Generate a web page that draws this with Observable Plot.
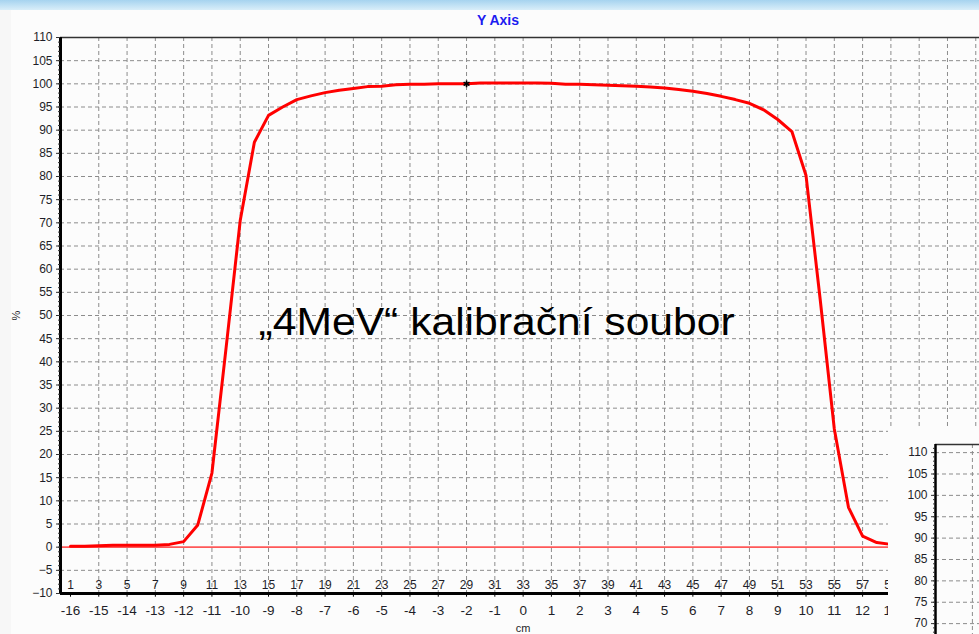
<!DOCTYPE html>
<html>
<head>
<meta charset="utf-8">
<script src="https://cdn.jsdelivr.net/npm/d3@7"></script>
<script src="https://cdn.jsdelivr.net/npm/@observablehq/plot@0.6"></script>
<style>
  html, body { margin: 0; padding: 0; overflow: hidden; }
  body { width: 979px; height: 634px; background: #f7f7f7; position: relative; font-family: "Liberation Sans", Arial, sans-serif; }
  #topbar { position: absolute; left: 0; top: 0; width: 979px; height: 10px; background: linear-gradient(#a6d3ef, #d9eef9); }
  #panel { position: absolute; left: 11px; top: 10px; width: 968px; height: 624px; background: #fcfcfc; }
  #main { position: absolute; left: 0; top: 0; }
  #inset { position: absolute; left: 888px; top: 428px; width: 91px; height: 206px; background: #fcfcfc; overflow: hidden; }
</style>
</head>
<body>
<div id="topbar"></div>
<div id="panel"></div>
<div id="main"></div>
<div id="inset"></div>
<script>
// ---- data ----
const positionsCm = [-16,-15.5,-15,-14.5,-14,-13.5,-13,-12.5,-12,-11.5,-11,-10.5,-10,-9.5,-9,-8.5,-8,-7.5,-7,-6.5,-6,-5.5,-5,-4.5,-4,-3.5,-3,-2.5,-2,-1.5,-1,-0.5,0,0.5,1,1.5,2,2.5,3,3.5,4,4.5,5,5.5,6,6.5,7,7.5,8,8.5,9,9.5,10,10.5,11,11.5,12,12.5,13];
const dosePercent = [0.2,0.2,0.3,0.4,0.4,0.4,0.4,0.6,1.2,4.8,16.0,43.0,70.5,87.4,93.2,95.0,96.6,97.4,98.1,98.6,99.0,99.4,99.5,99.8,99.9,99.9,100.0,100.0,100.0,100.2,100.2,100.2,100.2,100.2,100.1,99.9,99.9,99.8,99.7,99.6,99.5,99.3,99.1,98.8,98.4,97.9,97.3,96.6,95.8,94.4,92.3,89.7,80.2,53.5,25.5,8.6,2.4,1.0,0.6];
const cmTicks = [-16,-15,-14,-13,-12,-11,-10,-9,-8,-7,-6,-5,-4,-3,-2,-1,0,1,2,3,4,5,6,7,8,9,10,11,12,13];
const indexLabels = [1,3,5,7,9,11,13,15,17,19,21,23,25,27,29,31,33,35,37,39,41,43,45,47,49,51,53,55,57,59];
const yTicks = [-10,-5,0,5,10,15,20,25,30,35,40,45,50,55,60,65,70,75,80,85,90,95,100,105,110];
const gridY = [-5,5,10,15,20,25,30,35,40,45,50,55,60,65,70,75,80,85,90,95,100,105];
const gridX = [-15,-14,-13,-12,-11,-10,-9,-8,-7,-6,-5,-4,-3,-2,-1,0,1,2,3,4,5,6,7,8,9,10,11,12,13,14,15,16];
const markerPoint = [{x: -2, y: 100}];
const titleText = "Y Axis";
const annotation = [{x: -9.35, y: 48.5, text: "„4MeV“ kalibrační soubor"}];
const insetTicks = [70,75,80,85,90,95,100,105,110];
const insetGridX = [-15];

const profile = positionsCm.map((x, i) => ({x, y: dosePercent[i]}));
const xLabelRows = cmTicks.map((c, i) => ({x: c, idx: String(indexLabels[i]), cmText: String(c)}));
const xDomain = [-16.353, 16.132];
const dash = "4,3";
const gridColor = "#8c8c8c";
const textColor = "#1e1e28";

const main = Plot.plot({
  width: 979, height: 634,
  marginLeft: 60, marginRight: 0, marginTop: 37, marginBottom: 41,
  x: {domain: xDomain, axis: null},
  y: {domain: [-10, 110], axis: null},
  style: {background: "transparent", fontFamily: "Liberation Sans, Arial, sans-serif", color: textColor, overflow: "visible"},
  marks: [
    Plot.ruleY(gridY, {stroke: gridColor, strokeWidth: 1, strokeDasharray: dash}),
    Plot.ruleX(gridX, {stroke: gridColor, strokeWidth: 1, strokeDasharray: dash}),
    Plot.ruleY([0], {stroke: "#ff5858", strokeWidth: 1.6}),
    Plot.line(profile, {x: "x", y: "y", stroke: "#ff0000", strokeWidth: 3, strokeLinejoin: "round"}),
    Plot.dot(markerPoint, {x: "x", y: "y", symbol: "asterisk", r: 3.2, stroke: "#000", strokeWidth: 1.6}),
    Plot.ruleY([110], {stroke: "#333", strokeWidth: 1.5}),
    Plot.ruleY([-10], {stroke: "#000", strokeWidth: 3}),
    Plot.ruleX([xDomain[0]], {stroke: "#000", strokeWidth: 3}),
    Plot.ruleX(cmTicks, {y1: -10, y2: -10.8, stroke: "#000", strokeWidth: 1}),
    Plot.axisY(d3.range(-10, 111, 1), {tickSize: 2, text: null, label: null, stroke: "#333"}),
    Plot.axisY(yTicks, {tickSize: 4, tickPadding: 4, fontSize: 12, label: null, stroke: "#333", fill: textColor}),
    Plot.text(xLabelRows, {x: "x", y: -10, text: "idx", dy: -8, fontSize: 12, fill: textColor}),
    Plot.text(xLabelRows, {x: "x", y: -10, text: "cmText", dy: 17, fontSize: 13.5, fill: textColor}),
    Plot.text(["cm"], {x: 0, y: -10, text: d => d, dy: 35, fontSize: 11, fill: textColor}),
    Plot.text(["%"], {x: xDomain[0], y: 50, text: d => d, dx: -44, rotate: -90, fontSize: 11, fill: textColor}),
    Plot.text([titleText], {frameAnchor: "top", text: d => d, dx: -22, dy: -22, fontSize: 14, fontWeight: "bold", fill: "#1c1cf0"}),
    Plot.text(annotation, {x: "x", y: "y", text: "text", textAnchor: "start", fontSize: 38, fill: "#000", fontFamily: "Liberation Sans, Arial, sans-serif"})
  ]
});
document.getElementById("main").appendChild(main);
// stretch the annotation horizontally like the reference
d3.select(main).selectAll("text").filter(function () { return this.textContent.includes("kalibra"); })
  .attr("textLength", 476).attr("lengthAdjust", "spacingAndGlyphs");

const inset = Plot.plot({
  width: 91, height: 206,
  marginLeft: 47, marginRight: 0, marginTop: 16, marginBottom: 0,
  x: {domain: [-16.3, -14.75], axis: null},
  y: {domain: [111.9 - 190 / 4.275, 111.9], axis: null},
  style: {background: "transparent", fontFamily: "Liberation Sans, Arial, sans-serif", color: textColor, overflow: "visible"},
  marks: [
    Plot.ruleY(insetTicks, {stroke: gridColor, strokeWidth: 1, strokeDasharray: dash}),
    Plot.ruleX(insetGridX, {stroke: gridColor, strokeWidth: 1, strokeDasharray: dash}),
    Plot.ruleY([111.9], {stroke: "#333", strokeWidth: 1.5}),
    Plot.ruleX([-16.3], {stroke: "#000", strokeWidth: 2.5}),
    Plot.axisY(d3.range(68, 112, 1), {tickSize: 2, text: null, label: null, stroke: "#333"}),
    Plot.axisY(insetTicks, {tickSize: 4, tickPadding: 4, fontSize: 12, label: null, stroke: "#333", fill: textColor})
  ]
});
document.getElementById("inset").appendChild(inset);
</script>
</body>
</html>
